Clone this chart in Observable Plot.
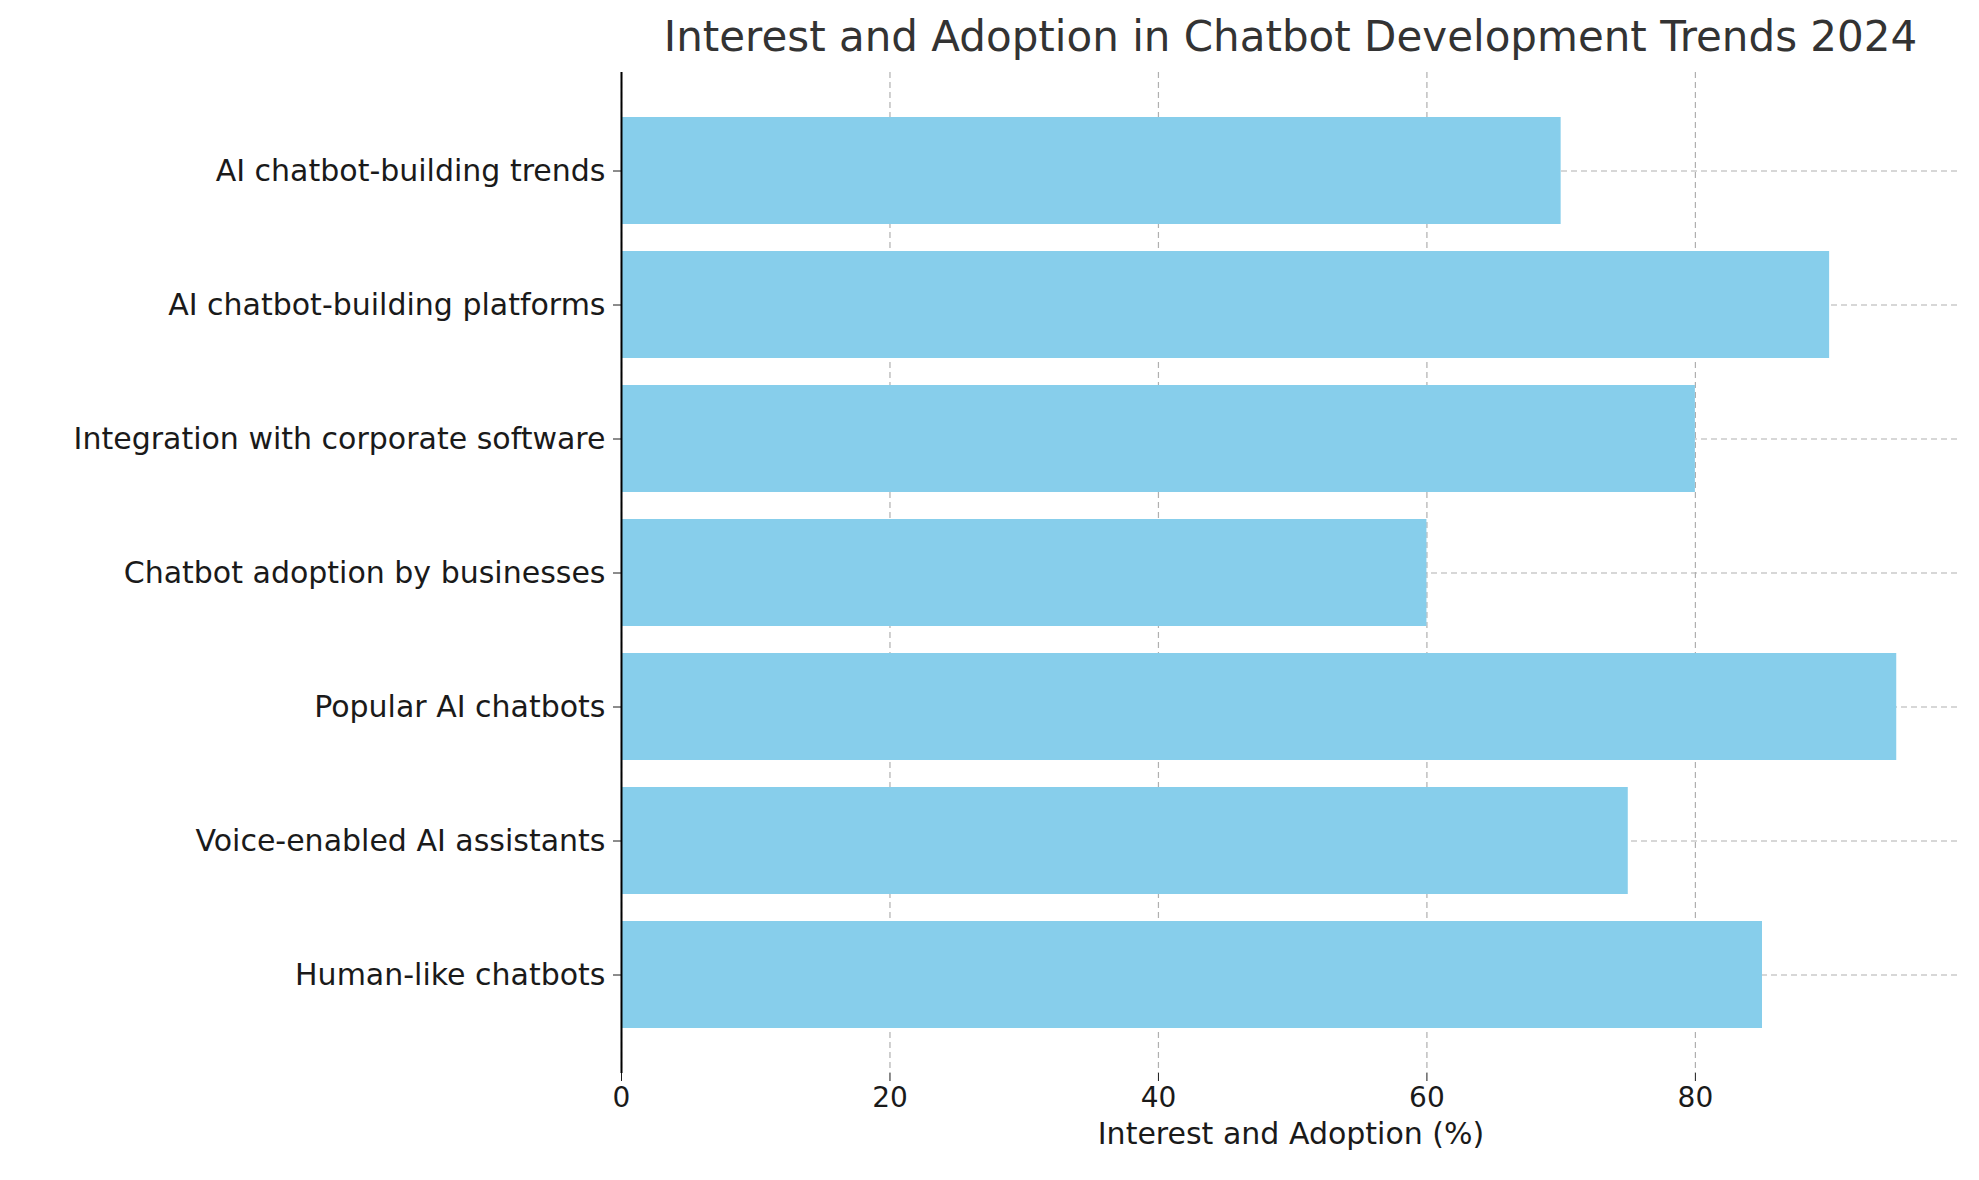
<!DOCTYPE html>
<html><head><meta charset="utf-8">
<script src="https://cdn.jsdelivr.net/npm/d3@7"></script>
<script src="https://cdn.jsdelivr.net/npm/@observablehq/plot@0.6"></script>
<style>
body{margin:0;background:#fff;font-family:"DejaVu Sans",sans-serif;}
#wrap{position:relative;width:1979px;height:1180px;}
#title{position:absolute;top:12px;left:621px;width:1339px;text-align:center;font-size:42px;color:#333;}
</style></head><body>
<div id="wrap"><div id="title">Interest and Adoption in Chatbot Development Trends 2024</div><div id="chart"></div></div>
<script>
const categories = ["AI chatbot-building trends","AI chatbot-building platforms","Integration with corporate software","Chatbot adoption by businesses","Popular AI chatbots","Voice-enabled AI assistants","Human-like chatbots"];
const values = [70, 90, 80, 60, 95, 75, 85];
const xTicks = [0, 20, 40, 60, 80];
const data = categories.map((c,i)=>({c, v: values[i]}));
const chart = Plot.plot({
  width: 1979, height: 1180,
  marginTop: 72, marginBottom: 107, marginLeft: 621, marginRight: 19,
  style: {fontFamily: "DejaVu Sans", fontSize: "28px", color: "#1a1a1a", background: "transparent"},
  x: {domain: [0, 99.75], ticks: xTicks, label: null, tickSize: 8},
  y: {domain: categories, label: null, padding: 0.2, paddingOuter: 0.325, tickSize: 8, tickPadding: 8},
  marks: [
    Plot.gridX(xTicks, {stroke: "#b0b0b0", strokeOpacity: 1, strokeDasharray: "6,4", strokeWidth: 1.2}),
    Plot.gridY(categories, {stroke: "#b0b0b0", strokeOpacity: 1, strokeDasharray: "6,4", strokeWidth: 1.2}),
    Plot.barX(data, {x: "v", y: "c", fill: "#87CEEB"}),
    Plot.axisX({ticks: xTicks, tickSize: 8, tickPadding: 6, fontSize: 28, label: null}),
    Plot.axisY({tickSize: 8, tickPadding: 8, fontSize: 30, label: null}),
    Plot.ruleX([0], {stroke: "#000", strokeWidth: 2}),
    Plot.ruleY([0], {stroke: "#000", strokeWidth: 2}),
    Plot.text(["Interest and Adoption (%)"], {frameAnchor: "bottom", dy: 70, fontSize: 30, fill: "#1a1a1a"})
  ]
});
document.getElementById("chart").appendChild(chart);
</script></body></html>
